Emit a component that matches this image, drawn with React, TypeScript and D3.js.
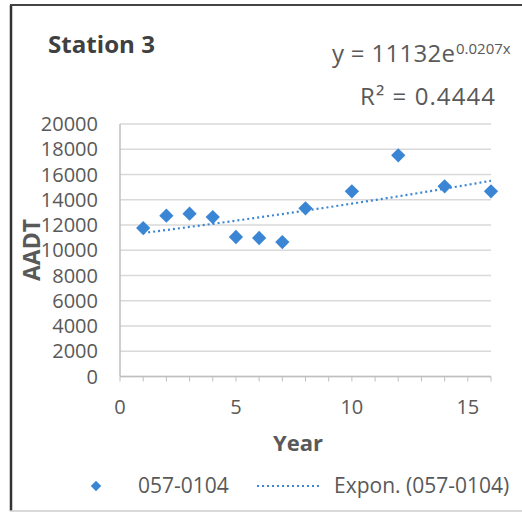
import React from "react";
import * as d3 from "d3";

const years = [1, 2, 3, 4, 5, 6, 7, 8, 10, 12, 14, 16];
const aadt = [11760, 12740, 12900, 12630, 11050, 10970, 10650, 13320, 14670, 17520, 15060, 14670];
const yTicks = [0, 2000, 4000, 6000, 8000, 10000, 12000, 14000, 16000, 18000, 20000];
const xTicks = [0, 5, 10, 15];
const trendA = 11132;
const trendB = 0.0207;
const title = "Station 3";
const seriesName = "057-0104";
const trendName = "Expon. (057-0104)";

const W = 522, H = 513;
const FONT = "'Open Sans', 'Liberation Sans', sans-serif";
const TXT = "#595959";
const BLUE = "#3a86d4";

export default function App() {
  const x = d3.scaleLinear().domain([0, 16]).range([120, 491]);
  const y = d3.scaleLinear().domain([0, 20000]).range([376.5, 124]);
  const minor = d3.range(0, 17, 1);
  const trendX = d3.range(years[0], years[years.length - 1] + 0.001, 0.25);
  const line = d3
    .line<number>()
    .x((d) => x(d))
    .y((d) => y(trendA * Math.exp(trendB * d)));
  const diamondType = (d3 as any).symbolDiamond2 ?? d3.symbolDiamond;
  const diamond = d3.symbol().type(diamondType).size(130)();
  const legendDiamond = d3.symbol().type(diamondType).size(70)();

  return (
    <svg
      width={W}
      height={H}
      style={{ position: "absolute", left: 0, top: 0, background: "#fff" }}
      fontFamily={FONT}
    >
      <rect x={0} y={0} width={W} height={H} fill="#fff" />
      {/* frame */}
      <line x1={11} y1={5} x2={11} y2={511} stroke="#333" strokeWidth={2.5} />
      <line x1={10} y1={5} x2={W} y2={5} stroke="#444" strokeWidth={2} />
      <line x1={10} y1={511} x2={W} y2={511} stroke="#ccc" strokeWidth={1.5} />

      <text x={48} y={53} fontSize={23.5} fontWeight="bold" fill="#404040" textLength={107} lengthAdjust="spacingAndGlyphs">{title}</text>

      <text x={332} y={62} fontSize={24} fill={TXT} textLength={123} lengthAdjust="spacing">y = 11132e</text>
      <text x={456} y={54} fontSize={15} fill={TXT}>0.0207x</text>
      <text x={360} y={105} fontSize={24} fill={TXT} textLength={135} lengthAdjust="spacing">R² = 0.4444</text>

      {/* gridlines */}
      {yTicks.map((t) => (
        <line key={"g" + t} x1={x(0)} x2={x(16)} y1={y(t)} y2={y(t)} stroke="#d9d9d9" strokeWidth={1.5} />
      ))}
      <line x1={x(0)} x2={x(0)} y1={y(20000)} y2={y(0)} stroke="#bfbfbf" strokeWidth={1.5} />
      <line x1={x(0)} x2={x(16)} y1={y(0)} y2={y(0)} stroke="#bfbfbf" strokeWidth={1.5} />
      {minor.map((t) => (
        <line key={"m" + t} x1={x(t)} x2={x(t)} y1={y(0)} y2={y(0) + 5} stroke="#bfbfbf" strokeWidth={1} />
      ))}

      {yTicks.map((t) => (
        <text key={"y" + t} x={98} y={y(t)} dy="0.35em" fontSize={20} textAnchor="end" fill={TXT}>
          {t}
        </text>
      ))}
      {xTicks.map((t) => (
        <text key={"x" + t} x={x(t)} y={407} dy="0.35em" fontSize={20} textAnchor="middle" fill={TXT}>
          {t}
        </text>
      ))}

      <text x={298} y={443} dy="0.35em" fontSize={22} fontWeight="bold" textAnchor="middle" fill={TXT}>Year</text>
      <text
        transform={`translate(32,250) rotate(-90)`}
        dy="0.35em"
        fontSize={23}
        fontWeight="bold"
        textAnchor="middle"
        fill={TXT}
      >
        AADT
      </text>

      {/* trendline */}
      <path d={line(trendX) ?? ""} fill="none" stroke={BLUE} strokeWidth={2.2} strokeDasharray="2,3" />

      {years.map((yr, i) => (
        <path key={"p" + yr} d={diamond ?? ""} transform={`translate(${x(yr)},${y(aadt[i])})`} fill={BLUE} />
      ))}

      {/* legend */}
      <path d={legendDiamond ?? ""} transform="translate(96,486)" fill={BLUE} />
      <text x={138} y={486} dy="0.35em" fontSize={21} fill={TXT}>{seriesName}</text>
      <line x1={257} x2={322} y1={486} y2={486} stroke={BLUE} strokeWidth={2} strokeDasharray="2,3" />
      <text x={334} y={486} dy="0.35em" fontSize={21} fill={TXT}>{trendName}</text>
    </svg>
  );
}
